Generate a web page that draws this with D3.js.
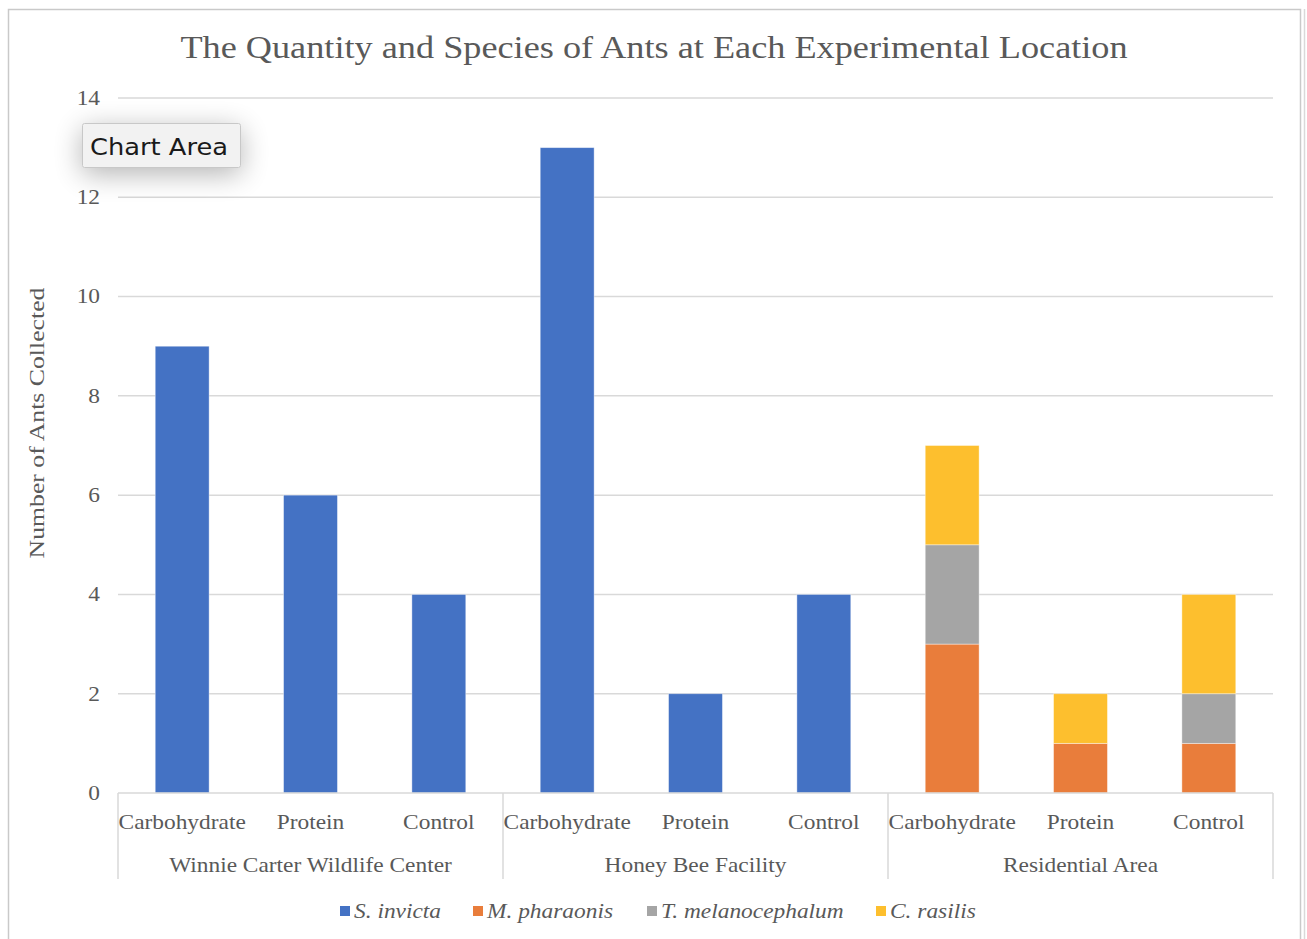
<!DOCTYPE html>
<html>
<head>
<meta charset="utf-8">
<script src="https://cdn.jsdelivr.net/npm/d3@7"></script>
<style>
  html, body { margin: 0; padding: 0; background: #fff; }
  svg { display: block; }
</style>
</head>
<body>
<svg id="chart" width="1307" height="939"></svg>
<script>
const title = "The Quantity and Species of Ants at Each Experimental Location";
const yTitle = "Number of Ants Collected";
const locations = ["Winnie Carter Wildlife Center", "Honey Bee Facility", "Residential Area"];
const baits = ["Carbohydrate", "Protein", "Control"];
const speciesNames = ["S. invicta", "M. pharaonis", "T. melanocephalum", "C. rasilis"];
const speciesColors = ["#4472C4", "#E97D3B", "#A5A5A5", "#FDBF2E"];
const sInvicta = [9, 6, 4, 13, 2, 4, 0, 0, 0];
const mPharaonis = [0, 0, 0, 0, 0, 0, 3, 1, 1];
const tMelanocephalum = [0, 0, 0, 0, 0, 0, 2, 0, 1];
const cRasilis = [0, 0, 0, 0, 0, 0, 2, 1, 2];
const yTicks = [0, 2, 4, 6, 8, 10, 12, 14];

const seriesValues = [sInvicta, mPharaonis, tMelanocephalum, cRasilis];
const cats = [];
locations.forEach((loc, li) => baits.forEach((b, bi) => cats.push({ id: li * 3 + bi, loc, bait: b })));
const rows = cats.map((c, i) => {
  const r = { id: c.id };
  speciesNames.forEach((s, si) => r[s] = seriesValues[si][i]);
  return r;
});

const svg = d3.select("#chart");
const textColor = "#595959";
const serif = "'Liberation Serif', 'Times New Roman', serif";
const K = 1.17; // horizontal glyph stretch seen in the reference

// place a text at (x,y) stretched horizontally by k about its anchor point
function placeStretched(sel, fx, fy, k) {
  sel.attr("x", 0).attr("y", 0)
    .attr("transform", (d, i) => `translate(${fx(d, i)},${fy(d, i)}) scale(${k},1)`);
}

// chart border
svg.append("rect").attr("x", 8.5).attr("y", 9.5).attr("width", 1292).attr("height", 940)
  .attr("fill", "#fff").attr("stroke", "#c9c9c9").attr("stroke-width", 1.5);
svg.append("line").attr("x1", 1304.5).attr("x2", 1304.5).attr("y1", 9).attr("y2", 939)
  .attr("stroke", "#d9d9d9").attr("stroke-width", 1.5);

const margin = { left: 118, right: 1273, top: 98, bottom: 793 };
const x = d3.scaleBand().domain(cats.map(c => c.id)).range([margin.left, margin.right]).paddingInner(0.58).paddingOuter(0.29);
const y = d3.scaleLinear().domain([0, 14]).range([margin.bottom, margin.top]);

// gridlines
svg.append("g").selectAll("line").data(yTicks.filter(t => t > 0)).join("line")
  .attr("x1", margin.left).attr("x2", margin.right)
  .attr("y1", d => y(d)).attr("y2", d => y(d))
  .attr("stroke", "#d9d9d9").attr("stroke-width", 1.5);

// y tick labels
const yAxis = d3.axisLeft(y).tickValues(yTicks).tickSize(0).tickPadding(18);
const gy = svg.append("g").attr("transform", `translate(${margin.left},0)`).call(yAxis);
gy.select(".domain").remove();
gy.selectAll("text").attr("font-family", serif).attr("font-size", 20).attr("fill", textColor)
  .attr("x", -18 / K).attr("transform", `scale(${K},1)`);

// stacked bars
const stack = d3.stack().keys(speciesNames)(rows);
svg.append("g").selectAll("g").data(stack).join("g")
  .attr("fill", (d, i) => speciesColors[i])
  .selectAll("rect").data(d => d.filter(p => p[1] - p[0] > 0)).join("rect")
  .attr("x", d => x(d.data.id))
  .attr("width", x.bandwidth())
  .attr("y", d => y(d[1]))
  .attr("height", d => y(d[0]) - y(d[1]))
  .attr("stroke", "rgba(255,255,255,0.5)").attr("stroke-width", 0.8);

// x axis line
svg.append("line").attr("x1", margin.left).attr("x2", margin.right)
  .attr("y1", margin.bottom).attr("y2", margin.bottom)
  .attr("stroke", "#d9d9d9").attr("stroke-width", 1.5);

// group separators
const step = (margin.right - margin.left) / locations.length;
const sepX = d3.range(locations.length + 1).map(i => margin.left + i * step);
svg.append("g").selectAll("line").data(sepX).join("line")
  .attr("x1", d => d).attr("x2", d => d)
  .attr("y1", margin.bottom).attr("y2", 879)
  .attr("stroke", "#d9d9d9").attr("stroke-width", 1.5);

// category labels
svg.append("g").selectAll("text").data(cats).join("text")
  .attr("text-anchor", "middle")
  .attr("font-family", serif).attr("font-size", 20).attr("fill", textColor)
  .text(d => d.bait)
  .call(placeStretched, d => x(d.id) + x.bandwidth() / 2, () => 829, K);

// group labels
svg.append("g").selectAll("text").data(locations).join("text")
  .attr("text-anchor", "middle")
  .attr("font-family", serif).attr("font-size", 20).attr("fill", textColor)
  .text(d => d)
  .call(placeStretched, (d, i) => margin.left + (i + 0.5) * step, () => 872, K);

// title
svg.append("text").attr("text-anchor", "middle")
  .attr("font-family", serif).attr("font-size", 31).attr("fill", textColor).text(title)
  .call(placeStretched, () => 654, () => 58, K);

// y axis title
svg.append("text").attr("transform", `translate(44,423) rotate(-90) scale(${K},1)`).attr("text-anchor", "middle")
  .attr("font-family", serif).attr("font-size", 22).attr("fill", textColor).text(yTitle);

// legend
const legendX = [340, 473, 647, 876];
const lg = svg.append("g").selectAll("g").data(speciesNames).join("g")
  .attr("transform", (d, i) => `translate(${legendX[i]},911)`);
lg.append("rect").attr("x", 0).attr("y", -5).attr("width", 10).attr("height", 10)
  .attr("fill", (d, i) => speciesColors[i]);
lg.append("text")
  .attr("font-family", serif).attr("font-style", "italic").attr("font-size", 20).attr("fill", textColor)
  .text(d => d)
  .call(placeStretched, () => 14, () => 7, K);

// "Chart Area" tooltip
const defs = svg.append("defs");
const f = defs.append("filter").attr("id", "shadow").attr("x", "-50%").attr("y", "-80%").attr("width", "200%").attr("height", "260%");
f.append("feGaussianBlur").attr("in", "SourceAlpha").attr("stdDeviation", 14).attr("result", "b");
f.append("feOffset").attr("in", "b").attr("dx", 0).attr("dy", 6).attr("result", "o");
f.append("feComponentTransfer").attr("in", "o").attr("result", "o2")
  .append("feFuncA").attr("type", "linear").attr("slope", 0.3);
const m = f.append("feMerge");
m.append("feMergeNode").attr("in", "o2");
m.append("feMergeNode").attr("in", "SourceGraphic");
svg.append("rect").attr("x", 82.5).attr("y", 123.5).attr("width", 158).attr("height", 44)
  .attr("rx", 2).attr("fill", "#f2f2f2").attr("stroke", "#c8c8c8").attr("filter", "url(#shadow)");
svg.append("text").attr("text-anchor", "middle")
  .attr("font-family", "'DejaVu Sans', 'Noto Sans', sans-serif").attr("font-size", 23).attr("fill", "#1a1a1a")
  .text("Chart Area")
  .call(placeStretched, () => 159, () => 155, 1.12);
</script>
</body>
</html>
